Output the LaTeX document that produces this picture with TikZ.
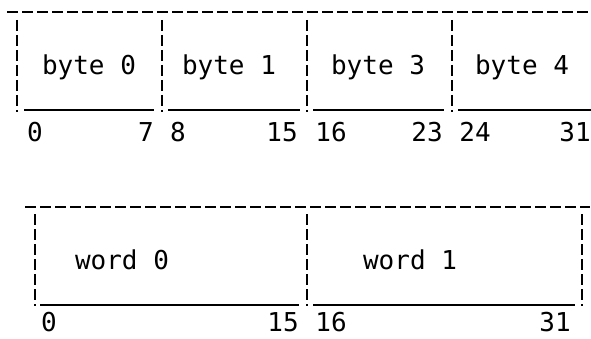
\documentclass[tikz,border=0pt]{standalone}
\usepackage{fontspec}
\setmonofont{DejaVu Sans Mono}
\begin{document}
\begin{tikzpicture}[x=1pt,y=-1pt,
  lbl/.style={font=\ttfamily\fontsize{26}{26}\selectfont, anchor=base, inner sep=0pt},
  dline/.style={line width=1.9pt, dash pattern=on 11pt off 4pt},
  sline/.style={line width=1.9pt}]
\useasboundingbox (0,0) rectangle (591,339);
% top row
\coordinate (t0) at (7,12); \coordinate (t1) at (591,12);
\draw[dline] (t0) -- (t1);
\foreach \x in {17,162,307,452} \draw[dline] (\x,20) -- (\x,112);
\foreach \a/\b in {24/154,168/300,313/444,458/591} \draw[sline] (\a,110) -- (\b,110);
\node[lbl] (b0) at (89,75) {byte 0};
\node[lbl] (b1) at (229,75) {byte 1};
\node[lbl] (b3) at (378,75) {byte 3};
\node[lbl] (b4) at (522,75) {byte 4};
\node[lbl] (n0) at (35,142) {0};
\node[lbl] (n7) at (146,142) {7};
\node[lbl] (n8) at (178,142) {8};
\node[lbl] (n15) at (282,142) {15};
\node[lbl] (n16) at (331,142) {16};
\node[lbl] (n23) at (427,142) {23};
\node[lbl] (n24) at (475,142) {24};
\node[lbl] (n31) at (575,142) {31};
% bottom row
\draw[dline] (25,207) -- (590,207);
\foreach \x in {35,307,582} \draw[dline] (\x,214) -- (\x,306);
\foreach \a/\b in {40/299,313/575} \draw[sline] (\a,305) -- (\b,305);
\node[lbl] (w0) at (122,269) {word 0};
\node[lbl] (w1) at (410,269) {word 1};
\node[lbl] (m0) at (49,331) {0};
\node[lbl] (m15) at (283,331) {15};
\node[lbl] (m16) at (331,331) {16};
\node[lbl] (m31) at (555,331) {31};
\end{tikzpicture}
\end{document}
